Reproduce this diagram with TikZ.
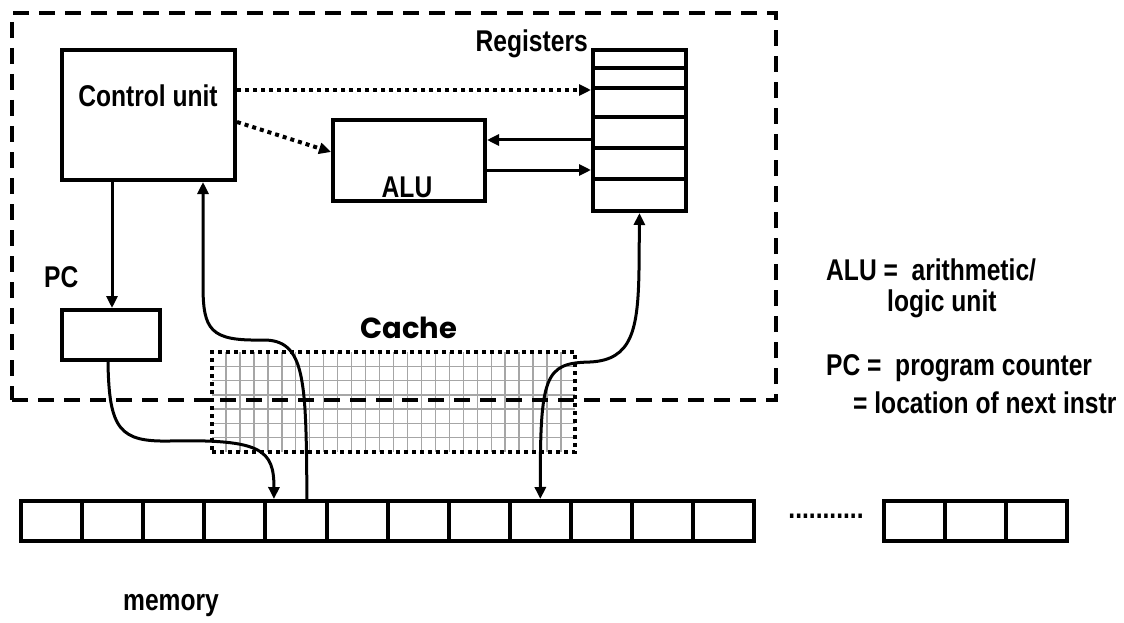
\documentclass[tikz,border=0pt]{standalone}
\usepackage{fontspec}
\setmainfont{Liberation Sans}
\newfontfamily\narrowfont[FakeStretch=0.82]{Liberation Sans}
\newfontfamily\cachefont{Poppins}
\usepackage{tikz}
\usetikzlibrary{arrows.meta}

\tikzset{
  >={Triangle[length=12pt,width=11pt]},
  blk/.style={draw, line width=4pt, inner sep=0pt},
  lbl/.style={font=\narrowfont\bfseries\fontsize{30}{34}\selectfont, inner sep=0pt},
  conn/.style={line width=3pt, ->},
  both/.style={line width=3pt, <->},
  dotconn/.style={conn, line width=4pt, dash pattern=on 4pt off 4pt},
  gridline/.style={gray!70, line width=1.4pt},
}

\begin{document}
\begin{tikzpicture}[x=1pt, y=-1pt]
    \useasboundingbox (0,0) rectangle (1124,623);
    % cache grid
    \foreach \c in {1,...,25}
    \draw[gridline] (212+\c*13.96, 352) -- (212+\c*13.96, 452);
    \foreach \r in {1,...,6}
    \draw[gridline] (212, 352+\r*14.29) -- (575, 352+\r*14.29);
    % processor
    \node[draw, line width=4pt, dash pattern=on 16pt off 10pt, 
    minimum width=764pt, minimum height=387pt, inner sep=0pt] (cpu) 
    at (394,206.5) {};
    \node[blk, minimum width=173pt, minimum height=130pt] (cu) at (148.5,115) {};
    \node[lbl] (cutxt) at (148,96) {Control unit};
    \node[blk, minimum width=152pt, minimum height=81pt] (alu) at (409,160.5) {};
    \node[lbl] (alutxt) at (407,187) {ALU};
    \node[blk, minimum width=93pt, minimum height=161pt] (regs) at (639.5,130.5) {};
    \foreach \d in {20,40,69,100,131}
    \draw[line width=4pt] ([yshift=-\d pt]regs.north west) 
    -- ([yshift=-\d pt]regs.north east);
    \node[lbl, anchor=east] (regtxt) at (588,44) {Registers};
    \node[lbl, anchor=west] (pctxt) at (44,277) {PC};
    \node[blk, minimum width=98pt, minimum height=50pt] (pc) at (111,335) {};
    \node[draw, line width=4pt, dash pattern=on 4pt off 4pt, minimum width=363pt, 
    minimum height=100pt, inner sep=0pt] (cache) at (393.5,402) {};
    \node[font=\cachefont\bfseries\fontsize{29}{33}\selectfont, inner sep=0pt] 
    (cachetxt) at (409,328) {Cache};
    % memory
    \foreach \i in {1,...,12}
    \node[blk, minimum width=61.1pt, minimum height=40pt] (m\i) 
    at ({21+61.1*(\i-0.5)},521) {};
    \foreach \i/\n in {0/13,1/14,2/15}
    \node[blk, minimum width=61pt, minimum height=40pt] (m\n) 
    at ({884+61*(\i+0.5)},521) {};
    \node[lbl] (dots) at (826,516) {...........};
    \node[lbl] (memtxt) at (171,606) {memory};
    % legend
    \node[lbl, anchor=west] (lgalu) at (826,270) {ALU =\ \ arithmetic/};
    \node[lbl, anchor=west] (lgalu2) at (887,304) {logic unit};
    \node[lbl, anchor=west] (lgpc) at (826,368) {PC =\ \ program counter};
    \node[lbl, anchor=west] (lgpc2) at (853,403) {= location of next instr};
    % connectors
    \draw[conn] ([xshift=-36.5pt]cu.south) -- ([xshift=-36.5pt]cu.south |- pc.north);
    \draw[dotconn] ([yshift=25pt]cu.east) -- ([yshift=25pt]cu.east -| regs.west);
    \draw[dotconn] ([yshift=-7pt]cu.east) -- ([yshift=8.5pt]alu.west);
    \draw[conn] ([yshift=-9.5pt]regs.west) -- ([yshift=-9.5pt]regs.west -| alu.east);
    \draw[conn] ([yshift=-9.5pt]alu.east) -- ([yshift=-9.5pt]alu.east -| regs.west);
    \draw[conn] ([xshift=-3pt]pc.south) .. controls (109,430) and (120,442) 
    .. (170,441) .. controls (262,439) and (274,450) .. ([xshift=-22pt]m5.north);
    \draw[conn] ([xshift=11pt]m5.north) .. controls (306,380) and (306,339) 
    .. (262,340) .. controls (210,341) and (203,330) .. (203,285) 
    -- ([xshift=54.5pt]cu.south);
    \draw[both] (m9.north) .. controls (540,375) and (545,363) .. (590,362) 
    .. controls (632,360) and (638,330) .. (639,270) -- (regs.south);
\end{tikzpicture}
\end{document}
